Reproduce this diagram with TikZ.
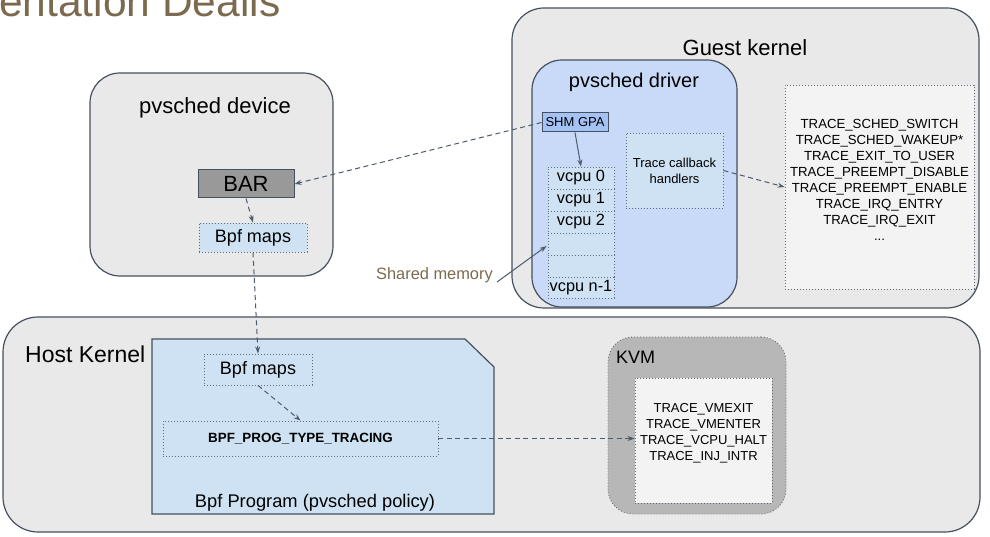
\documentclass[tikz,border=0pt]{standalone}
\usepackage{fontspec}
\setmainfont{Liberation Sans}
\usetikzlibrary{arrows.meta,calc}
\definecolor{bord}{HTML}{46505E}
\definecolor{panelgray}{HTML}{E9E9E9}
\definecolor{drvblue}{HTML}{C9DAF8}
\definecolor{bpfblue}{HTML}{CFE2F3}
\definecolor{shmblue}{HTML}{A4C2F4}
\definecolor{bargray}{HTML}{999999}
\definecolor{kvmgray}{HTML}{B7B7B7}
\definecolor{innergray}{HTML}{F3F3F3}
\definecolor{dotc}{HTML}{5F6B7A}
\definecolor{arr}{HTML}{4D5B6C}
\definecolor{brown}{HTML}{7B6A4E}
\newcommand\myfs[2]{\fontsize{#1}{#2}\selectfont}
\begin{document}
\begin{tikzpicture}[x=1pt,y=-1pt,
  panel/.style={draw=bord, fill=panelgray, line width=1.2pt, rounded corners=32pt, inner sep=0pt},
  dotbox/.style={draw=dotc, line width=0.9pt, dash pattern=on 0.9pt off 2.1pt, inner sep=0pt},
  txt/.style={inner sep=0pt, text=black},
  dasharrow/.style={draw=arr, line width=1pt, dash pattern=on 5pt off 3.5pt, -{Stealth[length=7pt,width=5pt]}},
  solidarrow/.style={draw=arr, line width=1pt, -{Stealth[length=7pt,width=5pt]}}
]
\useasboundingbox (0,0) rectangle (990,537);
% title fragment (cut off at the top, as in the reference)
\node[txt, anchor=base west, text=brown, font=\myfs{42.5}{42}] (title) at (-1,17) {entation Deails};

% guest kernel
\node[panel, minimum width=467pt, minimum height=300pt] (guest) at (745.5,158) {};
\node[txt, font=\myfs{22}{26}] (guestlbl) at (745,48) {Guest kernel};
\node[panel, fill=drvblue, rounded corners=30pt, minimum width=205pt, minimum height=247pt] (driver) at (634.5,183.5) {};
\node[txt, font=\myfs{20}{24}] (driverlbl) at (634,82) {pvsched driver};
\node[draw=bord, line width=1pt, fill=shmblue, inner sep=0pt, minimum width=66pt, minimum height=19pt, font=\myfs{13}{15}] (shm) at (575,122.5) {SHM GPA};
\node[dotbox, fill=bpfblue, minimum width=66pt, minimum height=22pt, font=\myfs{16.3}{18}] (v0) at (581,178) {vcpu 0};
\node[dotbox, fill=bpfblue, minimum width=66pt, minimum height=22pt, font=\myfs{16.3}{18}] (v1) at (581,200) {vcpu 1};
\node[dotbox, fill=bpfblue, minimum width=66pt, minimum height=22pt, font=\myfs{16.3}{18}] (v2) at (581,222) {vcpu 2};
\node[dotbox, fill=bpfblue, minimum width=66pt, minimum height=22pt] (e1) at (581,244) {};
\node[dotbox, fill=bpfblue, minimum width=66pt, minimum height=22pt] (e2) at (581,266) {};
\node[dotbox, fill=bpfblue, minimum width=66pt, minimum height=21pt, font=\myfs{16.3}{18}] (vn) at (581,287.5) {vcpu n-1};
\node[dotbox, fill=bpfblue, minimum width=97pt, minimum height=75pt, align=center, font=\myfs{13}{16}] (handlers) at (674.5,170.5) {Trace callback\\handlers};
\node[dotbox, fill=innergray, minimum width=189pt, minimum height=204pt] (list) at (879.5,187) {};
\node[txt, align=center, font=\myfs{13.2}{16}] (listtxt) at (879.5,180) {TRACE\_SCHED\_SWITCH\\TRACE\_SCHED\_WAKEUP*\\TRACE\_EXIT\_TO\_USER\\TRACE\_PREEMPT\_DISABLE\\TRACE\_PREEMPT\_ENABLE\\TRACE\_IRQ\_ENTRY\\TRACE\_IRQ\_EXIT\\...};

% pvsched device
\node[panel, rounded corners=30pt, minimum width=243pt, minimum height=203pt] (device) at (211.5,174.5) {};
\node[txt, font=\myfs{22}{26}] (devicelbl) at (215,108) {pvsched device};
\node[draw=bord, line width=1pt, fill=bargray, inner sep=0pt, minimum width=96pt, minimum height=28pt, font=\myfs{22}{24}] (bar) at (246,184) {BAR};
\node[dotbox, fill=bpfblue, minimum width=108pt, minimum height=29pt, font=\myfs{18}{20}] (dmaps) at (253,237.5) {Bpf maps};

% host kernel
\node[panel, rounded corners=35pt, minimum width=977pt, minimum height=215pt] (host) at (491.5,424.5) {};
\node[txt, anchor=west, font=\myfs{23}{26}] (hostlbl) at (25,354) {Host Kernel};
\draw[draw=bord, fill=bpfblue, line width=1.2pt] (152,339) -- (465,339) -- (494,367) -- (494,514) -- (152,514) -- cycle;
\node[txt, font=\myfs{18.3}{20}] (proglbl) at (315,503) {Bpf Program (pvsched policy)};
\node[dotbox, minimum width=108pt, minimum height=31pt, font=\myfs{18}{20}] (hmaps) at (258,369.5) {Bpf maps};
\node[dotbox, minimum width=275pt, minimum height=35pt, font=\myfs{13.4}{15}\bfseries] (bpft) at (300.5,438.5) {BPF\_PROG\_TYPE\_TRACING};
\node[dotbox, fill=kvmgray, rounded corners=25pt, minimum width=178pt, minimum height=177pt] (kvm) at (697,425.5) {};
\node[txt, anchor=west, font=\myfs{18}{20}] (kvmlbl) at (616,357) {KVM};
\node[dotbox, fill=innergray, minimum width=137pt, minimum height=125pt] (kvmin) at (703.5,440.5) {};
\node[txt, align=center, font=\myfs{13}{16}] (kvmtxt) at (703.5,433) {TRACE\_VMEXIT\\TRACE\_VMENTER\\TRACE\_VCPU\_HALT\\TRACE\_INJ\_INTR};

% shared memory label
\node[txt, anchor=east, text=brown, font=\myfs{16.4}{18}] (smlbl) at (493,275) {Shared memory};

% connectors
\draw[dasharrow] (shm.west) -- (bar.east);
\draw[solidarrow] (shm.south) -- (v0.north);
\draw[dasharrow] (bar.south) -- (dmaps.north);
\draw[dasharrow] (dmaps.south) -- (hmaps.north);
\draw[dasharrow] (hmaps.south) -- (bpft.north);
\draw[dasharrow] (bpft.east) -- (bpft.east -| kvmin.west);
\draw[dasharrow] (handlers.east) -- (list.west);
\draw[solidarrow] ([shift={(4,7)}]smlbl.east) -- ([shift={(-1,2)}]e1.west);
\end{tikzpicture}
\end{document}
